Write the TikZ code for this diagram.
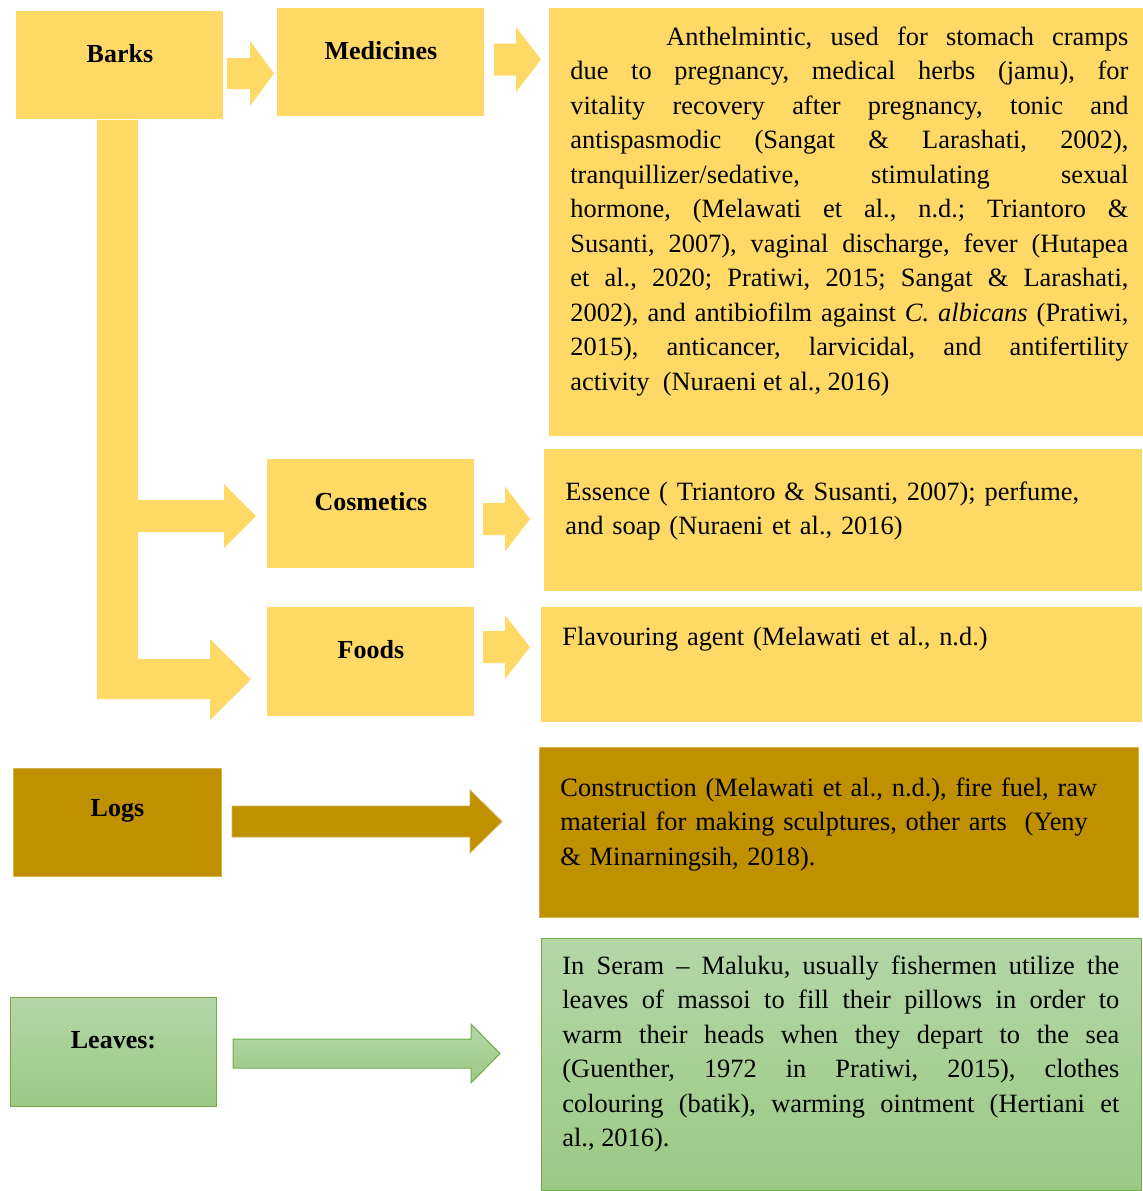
\documentclass[tikz,border=0pt]{standalone}
\usepackage{fontspec}
\setmainfont{Liberation Serif}
\usepackage{tikz}
\usetikzlibrary{calc}
\definecolor{barkfill}{HTML}{FFD966}
\definecolor{loggold}{HTML}{BF9000}
\definecolor{logline}{HTML}{D6B24E}
\definecolor{leaftop}{HTML}{B5D6A7}
\definecolor{leafbot}{HTML}{9BC985}
\definecolor{leafline}{HTML}{70AD47}
\tikzstyle{bark}=[rectangle,
fill=barkfill,
anchor=north west,
inner sep=0pt,
minimum width=103.5pt,
minimum height=54pt]
\tikzstyle{log}=[rectangle,
fill=loggold,
draw=logline,
line width=0.4pt,
anchor=north west,
inner sep=0pt,
minimum width=104pt,
minimum height=54pt]
\tikzstyle{leaf}=[rectangle,
draw=leafline,
line width=0.5pt,
top color=leaftop,
bottom color=leafbot,
anchor=north west,
inner sep=0pt,
minimum width=103pt,
minimum height=54.5pt]
\tikzstyle{heading}=[anchor=center,
yshift=-21.5pt,
font=\fontsize{13}{15}\selectfont\bfseries]
\tikzstyle{usetext}=[anchor=base west,
inner sep=0pt,
font=\fontsize{13.2}{17.25}\selectfont]
\tikzstyle{barkarrow}=[fill=barkfill]
\tikzstyle{logarrow}=[fill=loggold,draw=logline,line width=0.4pt]
\tikzstyle{leafarrow}=[draw=leafline,line width=0.5pt,top color=leaftop,bottom color=leafbot]
% block arrow: [style]{from}{tip}{shaft half width}{head half width}{head length}
\newcommand{\blockarrow}[6][]{%
\path[#1] ($(#2)+(0,#4)$) -- ($(#3)+(-#6,#4)$) -- ($(#3)+(-#6,#5)$) -- (#3)
-- ($(#3)+(-#6,-#5)$) -- ($(#3)+(-#6,-#4)$) -- ($(#2)+(0,-#4)$) -- cycle;}

\begin{document}
\frenchspacing
\begin{tikzpicture}[x=0.5pt,y=-0.5pt]
	\useasboundingbox (0,0) rectangle (1143,1191);
	
	% Left column: the parts of the tree
	\node (barks)     [bark, label={[heading]north:Barks}]     at (16,11)  {};
	\node (medicines) [bark, label={[heading]north:Medicines}] at (277,8)  {};
	\node (cosmetics) [bark, minimum height=54.5pt, label={[heading]north:Cosmetics}] at (267,459) {};
	\node (foods)     [bark, minimum height=54.5pt, label={[heading]north:Foods}]     at (267,607) {};
	\node (logs)      [log,  label={[heading]north:Logs}]      at (13,768) {};
	\node (leaves)    [leaf, label={[heading]north:Leaves:}]   at (10,997) {};
	
	% Right column: what they are used for
	\node (meduse)  [bark, minimum width=297pt,   minimum height=214pt]  at (549,8)   {};
	\node (cosuse)  [bark, minimum width=299pt,   minimum height=71pt]   at (544,449) {};
	\node (fooduse) [bark, minimum width=300.5pt, minimum height=57.5pt] at (541,607) {};
	\node (loguse)  [log,  minimum width=299.5pt, minimum height=85pt]   at (539,747) {};
	\node (leafuse) [leaf, minimum width=300pt,   minimum height=126pt]  at (541,938) {};
	
	\node (medtxt) [usetext, text width=279pt, align=justify] at (570,45) {%
		\hspace*{48pt}Anthelmintic, used for stomach cramps\linebreak
		due to pregnancy, medical herbs (jamu), for\linebreak
		vitality recovery after pregnancy, tonic and\linebreak
		antispasmodic (Sangat \& Larashati, 2002),\linebreak
		tranquillizer/sedative, stimulating sexual\linebreak
		hormone, (Melawati et al., n.d.; Triantoro \&\linebreak
		Susanti, 2007), vaginal discharge, fever (Hutapea\linebreak
		et al., 2020; Pratiwi, 2015; Sangat \& Larashati,\linebreak
		2002), and antibiofilm against \textit{C. albicans} (Pratiwi,\linebreak
		2015), anticancer, larvicidal, and antifertility\linebreak
		activity\ \ (Nuraeni et al., 2016)};
	\node (costxt) [usetext, text width=285pt, align=left] at (565,500) {%
		Essence ( Triantoro \& Susanti, 2007); perfume,\\
		and soap (Nuraeni et al., 2016)};
	\node (foodtxt) [usetext, text width=285pt, align=left] at (562,645) {%
		Flavouring agent (Melawati et al., n.d.)};
	\node (logtxt) [usetext, text width=285pt, align=left] at (560,796) {%
		Construction (Melawati et al., n.d.), fire fuel, raw\\
		material for making sculptures, other arts\ \ (Yeny\\
		\& Minarningsih, 2018).};
	\node (leaftxt) [usetext, text width=278.5pt, align=justify] at (562,974) {%
		In Seram -- Maluku, usually fishermen utilize the\linebreak
		leaves of massoi to fill their pillows in order to\linebreak
		warm their heads when they depart to the sea\linebreak
		(Guenther, 1972 in Pratiwi, 2015), clothes\linebreak
		colouring (batik), warming ointment (Hertiani et\linebreak
		al., 2016).};
	
	% Arrow ends
	\coordinate (bm0) at (227,73.5);  \coordinate (bm1) at (274,73.5);
	\coordinate (mu0) at (494,59.5);  \coordinate (mu1) at (541,59.5);
	\coordinate (tc0) at (138,516);   \coordinate (tc1) at (256,516);
	\coordinate (cu0) at (483,519);   \coordinate (cu1) at (530,519);
	\coordinate (fu0) at (483,647);   \coordinate (fu1) at (530,647);
	\coordinate (lu0) at (232,821.5); \coordinate (lu1) at (502,821.5);
	\coordinate (vu0) at (233,1053.5);\coordinate (vu1) at (500,1053.5);
	
	% The trunk from Barks down to Foods
	\fill[barkfill] (barks.south -| 97,0) -- (barks.south -| 138,0) -- (138,659) -- (210,659)
	-- (210,639) -- (251,679.5) -- (210,720) -- (210,699) -- (97,699) -- cycle;
	
	\blockarrow[barkarrow]{bm0}{bm1}{15.5}{32.5}{24}
	\blockarrow[barkarrow]{mu0}{mu1}{16}{32.5}{25}
	\blockarrow[barkarrow]{tc0}{tc1}{16}{32}{32}
	\blockarrow[barkarrow]{cu0}{cu1}{16}{32.5}{25}
	\blockarrow[barkarrow]{fu0}{fu1}{16}{32}{25}
	\blockarrow[logarrow]{lu0}{lu1}{15.5}{31.5}{32}
	\blockarrow[leafarrow]{vu0}{vu1}{14.5}{29.5}{29}
\end{tikzpicture}
\end{document}
